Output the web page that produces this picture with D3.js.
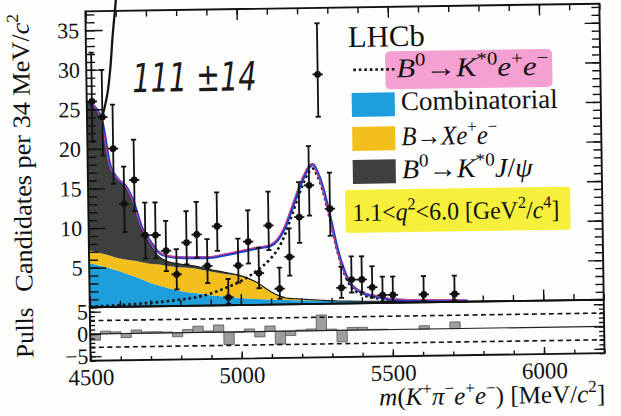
<!DOCTYPE html>
<html>
<head>
<meta charset="utf-8">
<script src="https://cdn.jsdelivr.net/npm/d3@7/dist/d3.min.js"></script>
<style>
  body { margin: 0; background: #fdfdfc; }
  svg { display: block; }
</style>
</head>
<body>
<script>
// --- Constants ---
const W = 621, H = 416;
const X0 = 88, X1 = 602;        // mass axis
const YT = 7.5, YB = 303.5;     // main panel
const YP = 357;                 // bottom of pulls panel
const SERIF = "'Liberation Serif', 'Times New Roman', serif";

// --- Data ---
const binLo = 4500, binW = 34;
const counts = [26, 24, 20, 13, 16, 9, 9, 7, 4, 8,
                9, 5, 10, 1, 5, 8, 4, 10, 2, 6,
                11, 15, 29, 12, 2, 3, 3, 2, 1, 1,
                0, 0, 1, 0, 0, 1, 0, 0, 0, 0,
                0, 0, 0, 0, 0, 0, 0, 0, 0, 0];
const pulls = [-1.4, 0.6, 0.4, -0.9, 0.75, 0.3, 0.3, 0.2, -0.9, 0.7,
               1.4, 0.3, 1.6, -2.8, -0.1, 0.6, -1.2, 1.2, -2.9, -1.0,
               0.2, 0.4, 3.5, 0.3, -2.6, 0.6, 0.6, 0.1, 0.1, 0,
               0, 0, 0.75, 0, 0, 1.5, 0, 0, 0, 0,
               0, 0, 0, 0, 0, 0, 0, 0, 0, 0];

const massGrid = [4500, 4525, 4550, 4575, 4600, 4625, 4650, 4675, 4700, 4725,
                  4750, 4800, 4850, 4900, 4950, 5000, 5050, 5100, 5125, 5150,
                  5175, 5200, 5215, 5230, 5245, 5260, 5275, 5290, 5305, 5320,
                  5340, 5360, 5400, 5450, 5500, 5600, 5700, 5750];
const combinatorial = [5.6, 5.35, 5.1, 4.8, 4.5, 4.15, 3.8, 3.4, 3.0, 2.7,
                       2.4, 1.9, 1.6, 1.3, 1.1, 0.9, 0.75, 0.65, 0.6, 0.55,
                       0.52, 0.5, 0.48, 0.46, 0.44, 0.42, 0.4, 0.38, 0.36, 0.34,
                       0.32, 0.3, 0.26, 0.22, 0.18, 0.13, 0.1, 0.08];
const bToXee = [1.6, 1.6, 1.6, 1.6, 1.6, 1.8, 2.0, 2.2, 2.4, 2.6,
                2.75, 3.0, 3.1, 3.0, 2.85, 2.7, 2.1, 0.95, 0.5, 0.25,
                0.18, 0.15, 0.12, 0.1, 0.08, 0.06, 0.04, 0.02, 0.01, 0,
                0, 0, 0, 0, 0, 0, 0, 0];
const jpsiBkg = [18.6, 18.3, 16.6, 11.2, 9.8, 9.0, 7.1, 4.1, 2.55, 1.2,
                 0.65, 0.4, 0.3, 0.25, 0.2, 0.12, 0.06, 0.03, 0.02, 0.01,
                 0, 0, 0, 0, 0, 0, 0, 0, 0, 0,
                 0, 0, 0, 0, 0, 0, 0, 0];
const signalEE = [0.1, 0.12, 0.15, 0.18, 0.22, 0.27, 0.32, 0.38, 0.45, 0.52,
                  0.6, 0.8, 1.05, 1.5, 2.2, 3.0, 4.2, 5.8, 7.0, 8.9,
                  11.5, 14.1, 15.5, 16.6, 17.1, 16.1, 14.5, 12.2, 9.6, 6.9,
                  4.2, 2.4, 1.1, 0.6, 0.22, 0.1, 0.05, 0.03];

// handwritten pen stroke (data units)
const penMass = [4601, 4597, 4589, 4580, 4569, 4552];
const penVal  = [38.7, 37.2, 34.3, 30.3, 27.0, 24.2];

const xMajor = [4500, 5000, 5500, 6000];
const yMajor = [5, 10, 15, 20, 25, 30, 35];
const pullMajor = [-5, 0, 5];

// --- Scales ---
const x = d3.scaleLinear().domain([4500, 6200]).range([X0, X1]);
const y = d3.scaleLinear().domain([0, 37.4]).range([YB, YT]);
const yp = d3.scaleLinear().domain([-6, 6]).range([YP, YB]);

const svg = d3.select("body").append("svg").attr("width", W).attr("height", H);
svg.append("rect").attr("width", W).attr("height", H).attr("fill", "#fdfdfc");
const g = svg.append("g").attr("transform", "rotate(-0.85 345 185)");

// --- Highlighter marks (under the legend text) ---
g.append("rect").attr("x", 387).attr("y", 52).attr("width", 167).attr("height", 38)
  .attr("rx", 5).attr("fill", "#f28fca").attr("opacity", 0.85);
g.append("rect").attr("x", 345).attr("y", 190).attr("width", 225).attr("height", 43)
  .attr("rx", 3).attr("fill", "#f6ef33").attr("opacity", 0.95);

// --- Stacked backgrounds ---
const table = massGrid.map((m, i) => ({
  m, comb: combinatorial[i], xee: bToXee[i], jpsi: jpsiBkg[i], sig: signalEE[i]
}));
const stack = d3.stack().keys(["comb", "xee", "jpsi"])(table);
const fillCol = { comb: "#1e9fdc", xee: "#f3bf1d", jpsi: "#3d403d" };

const area = d3.area()
  .x(d => x(d.data.m)).y0(d => y(d[0])).y1(d => y(d[1]))
  .curve(d3.curveMonotoneX);

g.append("g").selectAll("path").data(stack).join("path")
  .attr("d", area).attr("fill", d => fillCol[d.key]);

// dark edge on top of the J/psi layer
g.append("path").datum(stack[2])
  .attr("d", d3.line().x(d => x(d.data.m)).y(d => y(d[1])).curve(d3.curveMonotoneX))
  .attr("fill", "none").attr("stroke", "#1b1b1b").attr("stroke-width", 1.1);

// --- Signal (dotted) and total fit ---
g.append("path").datum(table)
  .attr("d", d3.line().x(d => x(d.m)).y(d => y(d.sig)).curve(d3.curveMonotoneX))
  .attr("fill", "none").attr("stroke", "#111").attr("stroke-width", 2.6)
  .attr("stroke-dasharray", "2.6,2.9");

const totalLine = d3.line()
  .x(d => x(d.m)).y(d => y(d.sig + d.comb + d.xee + d.jpsi))
  .curve(d3.curveMonotoneX);

g.append("path").datum(table).attr("d", totalLine)
  .attr("fill", "none").attr("stroke", "#1d3fc6").attr("stroke-width", 2.8);
g.append("path").datum(table).attr("d", totalLine)
  .attr("transform", "translate(-0.9,-0.9)")
  .attr("fill", "none").attr("stroke", "#d43a8e").attr("stroke-width", 1.1);

// --- Data points ---
const bins = counts.map((n, i) => ({ m: binLo + binW * (i + 0.5), n, p: pulls[i] }));
function errUp(n) { return Math.sqrt(n + 0.75) + 1; }
function errLo(n) { const r = 1 - 1 / (9 * n) - 1 / (3 * Math.sqrt(n)); return n - n * r * r * r; }

const pts = g.append("g").attr("stroke", "#111").attr("stroke-width", 1.8);
bins.filter(d => d.n > 0).forEach(d => {
  const cx = x(d.m), top = y(d.n + errUp(d.n)), bot = y(d.n - errLo(d.n));
  pts.append("line").attr("x1", cx).attr("x2", cx).attr("y1", top).attr("y2", bot);
  pts.append("line").attr("x1", cx - 2.6).attr("x2", cx + 2.6).attr("y1", top).attr("y2", top);
  pts.append("line").attr("x1", cx - 2.6).attr("x2", cx + 2.6).attr("y1", bot).attr("y2", bot);
  pts.append("line").attr("x1", x(d.m - binW / 2)).attr("x2", x(d.m + binW / 2))
    .attr("y1", y(d.n)).attr("y2", y(d.n));
  pts.append("circle").attr("cx", cx).attr("cy", y(d.n)).attr("r", 3.4).attr("fill", "#111").attr("stroke", "none");
});

// --- Pulls panel ---
g.append("g").selectAll("rect").data(bins.filter(d => d.p !== 0)).join("rect")
  .attr("x", d => x(d.m - binW / 2)).attr("width", x(binLo + binW) - x(binLo))
  .attr("y", d => yp(Math.max(d.p, 0))).attr("height", d => Math.abs(yp(d.p) - yp(0)))
  .attr("fill", "#9e9e9e").attr("stroke", "#555").attr("stroke-width", 0.8);

[-3, 3].forEach(v => {
  g.append("line").attr("x1", X0).attr("x2", X1).attr("y1", yp(v)).attr("y2", yp(v))
    .attr("stroke", "#111").attr("stroke-width", 1.6).attr("stroke-dasharray", "5,3.5");
});
g.append("line").attr("x1", X0).attr("x2", X1).attr("y1", yp(0)).attr("y2", yp(0))
  .attr("stroke", "#222").attr("stroke-width", 1.1);

// --- Axes ---
function styleAxis(sel, labelSize) {
  sel.attr("font-family", SERIF);
  sel.select(".domain").remove();
  sel.selectAll("line").attr("stroke", "#111").attr("stroke-width", 1.4);
  sel.selectAll("text").attr("font-family", SERIF).attr("font-size", labelSize).attr("fill", "#111");
}
const minorX = d3.range(4500, 6201, 100);
const fmt = d3.format("d");

// main panel: bottom, top
g.append("g").attr("transform", `translate(0,${YB})`)
  .call(d3.axisTop(x).tickValues(minorX).tickSize(6).tickFormat("")).call(styleAxis, 0);
g.append("g").attr("transform", `translate(0,${YB})`)
  .call(d3.axisTop(x).tickValues(xMajor).tickSize(11).tickFormat("")).call(styleAxis, 0);
g.append("g").attr("transform", `translate(0,${YT})`)
  .call(d3.axisBottom(x).tickValues(minorX).tickSize(6).tickFormat("")).call(styleAxis, 0);
g.append("g").attr("transform", `translate(0,${YT})`)
  .call(d3.axisBottom(x).tickValues(xMajor).tickSize(11).tickFormat("")).call(styleAxis, 0);

// main panel: left, right
g.append("g").attr("transform", `translate(${X0},0)`)
  .call(d3.axisLeft(y).tickValues(d3.range(0, 38, 1)).tickSize(-9).tickFormat("")).call(styleAxis, 0);
g.append("g").attr("transform", `translate(${X0},0)`)
  .call(d3.axisLeft(y).tickValues(yMajor).tickSize(-17).tickPadding(6.5).tickFormat(fmt)).call(styleAxis, 22);
g.append("g").attr("transform", `translate(${X1},0)`)
  .call(d3.axisRight(y).tickValues(d3.range(0, 38, 1)).tickSize(-8).tickFormat("")).call(styleAxis, 0);
g.append("g").attr("transform", `translate(${X1},0)`)
  .call(d3.axisRight(y).tickValues(yMajor).tickSize(-15).tickFormat("")).call(styleAxis, 0);

// pulls panel
g.append("g").attr("transform", `translate(0,${YP})`)
  .call(d3.axisBottom(x).tickValues(minorX).tickSize(-4).tickFormat("")).call(styleAxis, 0);
g.append("g").attr("transform", `translate(0,${YP})`)
  .call(d3.axisBottom(x).tickValues(xMajor).tickSize(-7).tickPadding(8).tickFormat(fmt)).call(styleAxis, 23);
g.append("g").attr("transform", `translate(${X0},0)`)
  .call(d3.axisLeft(yp).tickValues(d3.range(-6, 7, 1)).tickSize(-5).tickFormat("")).call(styleAxis, 0);
g.append("g").attr("transform", `translate(${X0},0)`)
  .call(d3.axisLeft(yp).tickValues(pullMajor).tickSize(-11).tickPadding(2)).call(styleAxis, 22);
g.append("g").attr("transform", `translate(${X1},0)`)
  .call(d3.axisRight(yp).tickValues(d3.range(-6, 7, 1)).tickSize(-5).tickFormat("")).call(styleAxis, 0);
g.append("g").attr("transform", `translate(${X1},0)`)
  .call(d3.axisRight(yp).tickValues(pullMajor).tickSize(-10).tickFormat("")).call(styleAxis, 0);

// frames
g.append("rect").attr("x", X0).attr("y", YT).attr("width", X1 - X0).attr("height", YB - YT)
  .attr("fill", "none").attr("stroke", "#111").attr("stroke-width", 1.9);
g.append("rect").attr("x", X0).attr("y", YB).attr("width", X1 - X0).attr("height", YP - YB)
  .attr("fill", "none").attr("stroke", "#111").attr("stroke-width", 1.9);

// --- Rich text helper (italics and superscripts) ---
function rich(parent, parts, size, attrs, len) {
  const t = parent.append("text").attr("font-family", SERIF).attr("font-size", size).attr("fill", "#111");
  Object.entries(attrs).forEach(([k, v]) => t.attr(k, v));
  let shift = 0;
  parts.forEach(p => {
    const target = p.sup ? -size * 0.42 : 0;
    const s = t.append("tspan").text(p.t).attr("dy", target - shift);
    shift = target;
    if (p.sup) s.attr("font-size", size * 0.68);
    if (p.it) s.attr("font-style", "italic");
  });
  if (len) t.attr("textLength", len).attr("lengthAdjust", "spacingAndGlyphs");
  return t;
}
const I = t => ({ t, it: true }), S = t => ({ t, sup: true }), R = t => ({ t });

// axis titles
rich(g, [I("m"), R("("), I("K"), S("+"), I("π"), S("−"), I("e"), S("+"), I("e"), S("−"), R(") [MeV/"), I("c"), S("2"), R("]")],
  25, { x: X1, y: 406, "text-anchor": "end" }, 226);
rich(g, [R("Candidates per 34 MeV/"), I("c"), S("2")],
  25, { transform: "translate(31,9) rotate(-90)", "text-anchor": "end" }, 278);
rich(g, [R("Pulls")], 25, { transform: "translate(31,328) rotate(-90)", "text-anchor": "middle" });

// --- Legend ---
rich(g, [R("LHCb")], 30, { x: 350, y: 47 }, 77);
g.append("line").attr("x1", 355).attr("x2", 397).attr("y1", 70).attr("y2", 70)
  .attr("stroke", "#111").attr("stroke-width", 2.6).attr("stroke-dasharray", "2.6,2.9");
rich(g, [I("B"), S("0"), R("→"), I("K"), S("*0"), I("e"), S("+"), I("e"), S("−")], 27, { x: 398, y: 78 }, 152);

const swatches = [["comb", 93], ["xee", 127], ["jpsi", 160]];
swatches.forEach(([k, top]) => {
  g.append("rect").attr("x", 353).attr("y", top).attr("width", 43).attr("height", 24).attr("fill", fillCol[k]);
});
rich(g, [R("Combinatorial")], 27, { x: 402, y: 111 }, 157);
rich(g, [I("B"), R("→"), I("X"), I("e"), S("+"), I("e"), S("−")], 27, { x: 402, y: 146 }, 96);
rich(g, [I("B"), S("0"), R("→"), I("K"), S("*0"), I("J"), R("/"), I("ψ")], 27, { x: 402, y: 179 }, 131);
rich(g, [R("1.1<"), I("q"), S("2"), R("<6.0 [GeV"), S("2"), R("/"), I("c"), S("4"), R("]")], 25, { x: 352, y: 221 }, 207);

// --- Handwritten annotation ---
g.append("path").datum(penMass.map((m, i) => [m, penVal[i]]))
  .attr("d", d3.line().x(d => x(d[0])).y(d => y(d[1])).curve(d3.curveCatmullRom))
  .attr("fill", "none").attr("stroke", "#151515").attr("stroke-width", 2.3).attr("stroke-linecap", "round");
g.append("text").attr("x", 134).attr("y", 89)
  .attr("font-family", "'DejaVu Sans', sans-serif").attr("font-size", 40).attr("font-style", "italic")
  .attr("fill", "#1a1a1a").attr("textLength", 124).attr("lengthAdjust", "spacingAndGlyphs")
  .text("111 ±14");
</script>
</body>
</html>
